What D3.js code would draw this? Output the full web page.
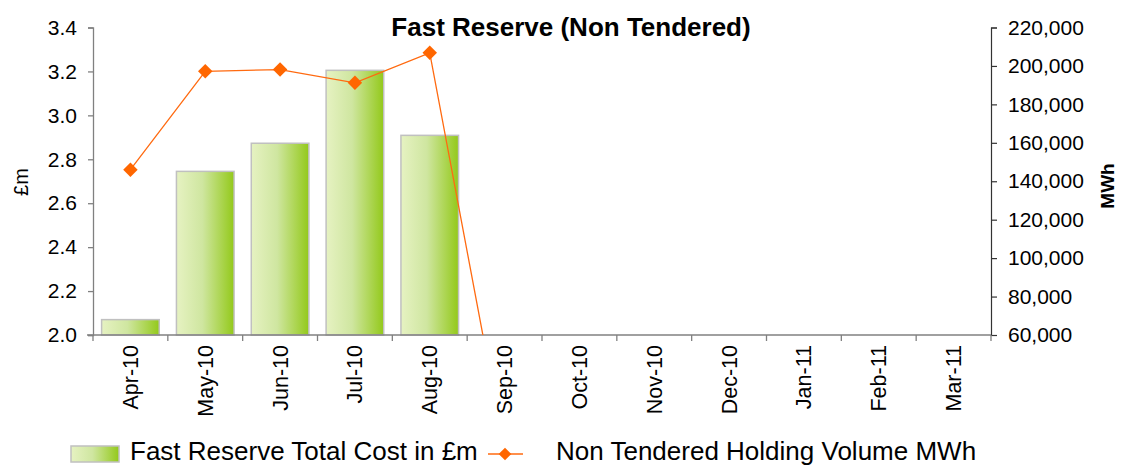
<!DOCTYPE html>
<html><head><meta charset="utf-8">
<script src="https://cdn.jsdelivr.net/npm/d3@7"></script>
<style>body{margin:0;background:#fff;}svg{display:block;font-family:"Liberation Sans",Arial,sans-serif;}</style>
</head><body>
<svg id="c" width="1123" height="466"></svg>
<script>
const months = ["Apr-10","May-10","Jun-10","Jul-10","Aug-10","Sep-10","Oct-10","Nov-10","Dec-10","Jan-11","Feb-11","Mar-11"];
const costValues = [2.07, 2.745, 2.873, 3.205, 2.909, null, null, null, null, null, null, null];
const volumeValues = [146000, 197200, 198100, 191200, 206800, 0, 0, 0, 0, 0, 0, 0];
const leftTicks = [2.0, 2.2, 2.4, 2.6, 2.8, 3.0, 3.2, 3.4];
const rightTicks = [60000, 80000, 100000, 120000, 140000, 160000, 180000, 200000, 220000];

const svg = d3.select("#c");
const L = 93, R = 991, T = 27.5, B = 335;
const FONT = "Liberation Sans, Arial, sans-serif";

const x = d3.scaleBand().domain(months).range([L, R]).paddingInner(0.23).paddingOuter(0.115);
const xAxisScale = d3.scaleBand().domain(months).range([L, R]);
const yL = d3.scaleLinear().domain([2.0, 3.4]).range([B, T]);
const yR = d3.scaleLinear().domain([60000, 220000]).range([B, T]);

const defs = svg.append("defs");
const g = defs.append("linearGradient").attr("id","bg").attr("x1","0").attr("x2","1").attr("y1","0").attr("y2","0");
g.append("stop").attr("offset","0").attr("stop-color","#e6f2c2");
g.append("stop").attr("offset","0.45").attr("stop-color","#cfe6a0");
g.append("stop").attr("offset","1").attr("stop-color","#93c91a");
defs.append("clipPath").attr("id","clip").append("rect").attr("x",L).attr("y",T-10).attr("width",R-L).attr("height",B-T+10);

// bars
svg.append("g").selectAll("rect").data(months.map((m,i)=>({m,v:costValues[i]})).filter(d=>d.v!=null))
 .enter().append("rect")
 .attr("x", d=>x(d.m)).attr("width", x.bandwidth())
 .attr("y", d=>yL(d.v)).attr("height", d=>yL(2.0)-yL(d.v))
 .attr("fill","url(#bg)").attr("stroke","#c0c0c0").attr("stroke-width",1.5);

// left axis
const la = svg.append("g").attr("transform",`translate(${L},0)`)
 .call(d3.axisLeft(yL).tickValues(leftTicks).tickFormat(d3.format(".1f")).tickSize(5).tickPadding(11));
la.select(".domain").attr("stroke","#808080").attr("stroke-width",1.3);
la.selectAll(".tick line").attr("stroke","#808080").attr("stroke-width",1.3);
la.selectAll("text").style("font-size","21px").attr("fill","#000").style("font-family",FONT);

// right axis
const ra = svg.append("g").attr("transform",`translate(${R},0)`)
 .call(d3.axisRight(yR).tickValues(rightTicks).tickFormat(d3.format(",")).tickSize(6).tickPadding(11));
ra.select(".domain").attr("stroke","#333").attr("stroke-width",1.2);
ra.selectAll(".tick line").attr("stroke","#333").attr("stroke-width",1.2);
ra.selectAll("text").style("font-size","21px").attr("fill","#000").style("font-family",FONT);

// x axis
const xa = svg.append("g").attr("transform",`translate(0,${B})`)
 .call(d3.axisBottom(xAxisScale).tickSize(0).tickPadding(0));
xa.select(".domain").remove();
xa.append("line").attr("x1",L-6).attr("x2",R).attr("y1",0).attr("y2",0).attr("stroke","#808080").attr("stroke-width",1.3);
xa.selectAll(".tickmark").data(d3.range(months.length+1)).enter().append("line")
 .attr("x1",i=>L+i*xAxisScale.step()).attr("x2",i=>L+i*xAxisScale.step())
 .attr("y1",0).attr("y2",6).attr("stroke","#808080").attr("stroke-width",1.3);
xa.selectAll(".tick text").style("font-size","21.5px").attr("fill","#000").style("font-family",FONT)
 .attr("transform","rotate(-90)").attr("text-anchor","end").attr("dx","-10").attr("dy","0.35em").attr("y",0).attr("x",0);

// line
const line = d3.line().x((d,i)=>xAxisScale(months[i])+xAxisScale.bandwidth()/2).y(d=>yR(d));
const lg = svg.append("g").attr("clip-path","url(#clip)");
lg.append("path").datum(volumeValues).attr("d",line).attr("fill","none").attr("stroke","#ff6a10").attr("stroke-width",1.3);
lg.selectAll("path.m").data(volumeValues).enter().append("path").attr("class","m")
 .attr("d", d3.symbol().type(d3.symbolSquare).size(105))
 .attr("transform",(d,i)=>`translate(${xAxisScale(months[i])+xAxisScale.bandwidth()/2},${yR(d)}) rotate(45)`)
 .attr("fill","#ff6600");

// title & labels
svg.append("text").attr("x",571).attr("y",36).attr("text-anchor","middle").style("font-size","26px").attr("font-weight","bold").text("Fast Reserve (Non Tendered)");
svg.append("text").attr("transform","translate(28,182) rotate(-90)").attr("text-anchor","middle").style("font-size","20px").text("£m");
svg.append("text").attr("transform","translate(1114,186) rotate(-90)").attr("text-anchor","middle").style("font-size","19px").attr("font-weight","bold").text("MWh");

// legend
const leg = svg.append("g");
leg.append("rect").attr("x",71).attr("y",446).attr("width",48).attr("height",16).attr("fill","url(#bg)").attr("stroke","#c0c0c0").attr("stroke-width",1.5);
leg.append("text").attr("x",130).attr("y",460).style("font-size","26px").text("Fast Reserve Total Cost in £m");
leg.append("line").attr("x1",488).attr("x2",523).attr("y1",454).attr("y2",454).attr("stroke","#ff6a10").attr("stroke-width",1.3);
leg.append("path").attr("d",d3.symbol().type(d3.symbolSquare).size(80)).attr("transform","translate(505,454) rotate(45)").attr("fill","#ff6600");
leg.append("text").attr("x",556).attr("y",460).style("font-size","26px").text("Non Tendered Holding Volume MWh");
</script>
</body></html>
